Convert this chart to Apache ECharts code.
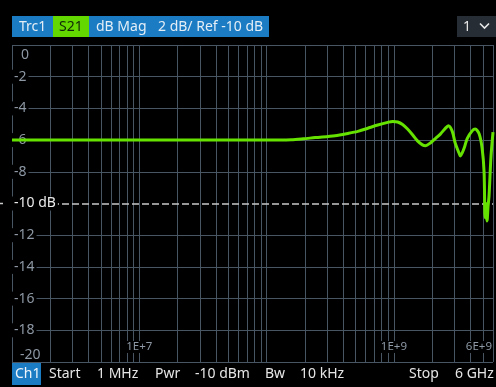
<!DOCTYPE html>
<html>
<head>
<meta charset="utf-8">
<script src="https://cdn.jsdelivr.net/npm/echarts@6/dist/echarts.min.js"></script>
<style>
  html, body { margin: 0; padding: 0; background: #000; }
  #chart { width: 496px; height: 387px; }
</style>
</head>
<body>
<div id="chart"></div>
<script>
// S21 magnitude trace, frequency in Hz, level in dB
const freqHz = [
  1e6, 1e7, 1e8, 1.562e8, 1.938e8, 2.404e8, 3.444e8, 4.351e8, 5.207e8, 6.232e8,
  7.461e8, 8.93e8, 9.77e8, 1.069e9, 1.169e9, 1.279e9, 1.4e9, 1.531e9, 1.675e9, 1.768e9,
  1.934e9, 2.116e9, 2.315e9, 2.533e9, 2.673e9, 2.872e9, 3.032e9, 3.258e9, 3.317e9, 3.564e9,
  3.762e9, 4.115e9, 4.343e9, 4.667e9, 4.925e9, 5.105e9, 5.198e9, 5.292e9, 5.388e9, 5.486e9,
  5.586e9, 5.79e9, 6.0e9
];
const s21dB = [
  -6.0, -6.0, -6.0, -5.98, -5.92, -5.84, -5.72, -5.58, -5.45, -5.25,
  -5.05, -4.88, -4.82, -4.86, -5.02, -5.3, -5.66, -6.05, -6.3, -6.35,
  -6.18, -5.9, -5.62, -5.26, -5.1, -5.45, -6.2, -6.85, -7.0, -6.5,
  -5.9, -5.42, -5.3, -5.6, -6.5, -8.0, -10.9, -10.0, -11.1, -10.2,
  -9.5, -7.0, -5.5
];

// Axis settings
const startHz = 1e6;
const stopHz = 6e9;
const refLevel = -10;
const yMin = -20, yMax = 0, yStep = 2;
const xTickLabels = { '1e7': '1E+7', '1e9': '1E+9', '6e9': '6E+9' };
const decades = [1e6, 1e7, 1e8, 1e9];
const mantissas = [1, 2, 3, 4, 5, 6, 7, 8, 9];

const lineGrey = '#485663';
const labelColor = '#8d98a4';
const traceColor = '#66e200';
const font = '"Noto Sans", "Open Sans", sans-serif';

// vertical log grid lines at 1..9 x each decade
const vLines = [];
decades.forEach(d => mantissas.forEach(m => {
  const f = d * m;
  if (f <= stopHz) vLines.push({ xAxis: f });
}));

// horizontal split lines: hide the one under the reference line
const hColors = [];
for (let v = yMin; v <= yMax; v += yStep) hColors.push(v === refLevel ? 'rgba(0,0,0,0)' : lineGrey);

function xLabel(v) {
  for (const k in xTickLabels) {
    const t = Number(k);
    if (Math.abs(v - t) / t < 1e-6) return xTickLabels[k];
  }
  return '';
}

const chart = echarts.init(document.getElementById('chart'), null, { renderer: 'canvas' });
chart.setOption({
  backgroundColor: '#000',
  animation: false,
  grid: { left: 12, right: 0, top: 45, bottom: 25 },
  xAxis: {
    type: 'log',
    logBase: 10,
    min: startHz,
    max: stopHz,
    z: 1,
    axisLine: { show: false },
    axisTick: { show: false },
    splitLine: { show: false },
    axisLabel: {
      inside: true,
      margin: 9,
      color: labelColor,
      fontFamily: font,
      fontSize: 11.5,
      backgroundColor: '#000',
      padding: [0, 1, 0, 1],
      alignMaxLabel: 'right',
      showMinLabel: true,
      showMaxLabel: true,
      formatter: xLabel
    }
  },
  yAxis: {
    type: 'value',
    min: yMin,
    max: yMax,
    interval: yStep,
    z: 1,
    axisLine: { show: false },
    axisTick: { show: false },
    splitLine: { show: true, lineStyle: { color: hColors, width: 1 } },
    axisLabel: {
      inside: true,
      margin: 0,
      align: 'left',
      fontFamily: font,
      fontSize: 14,
      formatter: v => {
        if (v === yMax) return '{top|' + v + '}';
        if (v === yMin) return '{bot|' + v + '}';
        if (v === refLevel) return '{ref|' + v + ' dB}';
        return '{n|' + v + '}';
      },
      rich: {
        n: { color: labelColor, backgroundColor: '#000', padding: [0, 2, 0, 2], fontFamily: font, fontSize: 14 },
        top: { color: labelColor, padding: [21, 0, 0, 9], fontFamily: font, fontSize: 14 },
        bot: { color: labelColor, padding: [0, 0, 14, 8], fontFamily: font, fontSize: 14 },
        ref: { color: '#ececec', backgroundColor: '#000', padding: [0, 2, 0, 2], fontFamily: font, fontSize: 14 }
      }
    }
  },
  series: [
    {
      // graticule and reference level line
      type: 'line',
      data: [],
      z: 0,
      silent: true,
      markLine: {
        z: 0,
        silent: true,
        symbol: ['none', 'none'],
        label: { show: false },
        emphasis: { disabled: true },
        animation: false,
        data: vLines.map(d => Object.assign({}, d, { lineStyle: { color: lineGrey, width: 1, type: 'solid' } }))
          .concat([{ yAxis: refLevel, lineStyle: { color: '#c9c9c9', width: 1.5, type: [7, 3] } }])
      }
    },
    {
      name: 'S21',
      type: 'line',
      z: 2,
      data: freqHz.map((f, i) => [f, s21dB[i]]),
      showSymbol: false,
      smooth: 0.3,
      lineStyle: { color: traceColor, width: 3 },
      silent: true
    }
  ],
  graphic: [
    // header bar
    { type: 'rect', shape: { x: 12, y: 16, width: 257, height: 21 }, style: { fill: '#1b7cc4' } },
    { type: 'rect', shape: { x: 53, y: 16, width: 36, height: 21 }, style: { fill: '#62d800' } },
    { type: 'text', style: { text: 'Trc1', x: 19, y: 27, fill: '#e4eef6', font: '14px ' + font, verticalAlign: 'middle' } },
    { type: 'text', style: { text: 'S21', x: 59, y: 27, fill: '#10260a', font: '14px ' + font, verticalAlign: 'middle' } },
    { type: 'text', style: { text: 'dB Mag', x: 96, y: 27, fill: '#e4eef6', font: '14px ' + font, verticalAlign: 'middle' } },
    { type: 'text', style: { text: '2 dB/ Ref -10 dB', x: 158, y: 27, fill: '#e4eef6', font: '14px ' + font, verticalAlign: 'middle' } },
    // window selector
    { type: 'rect', shape: { x: 457, y: 16, width: 39, height: 21 }, style: { fill: '#262d34' } },
    { type: 'text', style: { text: '1', x: 463, y: 27, fill: '#e8e8e8', font: '14px ' + font, verticalAlign: 'middle' } },
    { type: 'polyline', shape: { points: [[480, 23.5], [484.5, 28], [489, 23.5]] }, style: { stroke: '#e8e8e8', lineWidth: 1.6, fill: null } },
    // reference marker outside the plot
    { type: 'line', shape: { x1: 0, y1: 203.5, x2: 3, y2: 203.5 }, style: { stroke: '#c9c9c9', lineWidth: 1.5 } },
    // channel bar
    { type: 'rect', shape: { x: 12, y: 363, width: 29, height: 22 }, style: { fill: '#1b7cc4' } },
    { type: 'text', style: { text: 'Ch1', x: 15, y: 374.5, fill: '#eef4fa', font: '14px ' + font, verticalAlign: 'middle' } },
    { type: 'text', style: { text: 'Start', x: 49, y: 374.5, fill: '#e6e6e6', font: '14px ' + font, verticalAlign: 'middle' } },
    { type: 'text', style: { text: '1 MHz', x: 97, y: 374.5, fill: '#e6e6e6', font: '14px ' + font, verticalAlign: 'middle' } },
    { type: 'text', style: { text: 'Pwr', x: 155, y: 374.5, fill: '#e6e6e6', font: '14px ' + font, verticalAlign: 'middle' } },
    { type: 'text', style: { text: '-10 dBm', x: 195, y: 374.5, fill: '#e6e6e6', font: '14px ' + font, verticalAlign: 'middle' } },
    { type: 'text', style: { text: 'Bw', x: 265, y: 374.5, fill: '#e6e6e6', font: '14px ' + font, verticalAlign: 'middle' } },
    { type: 'text', style: { text: '10 kHz', x: 300, y: 374.5, fill: '#e6e6e6', font: '14px ' + font, verticalAlign: 'middle' } },
    { type: 'text', style: { text: 'Stop', x: 409, y: 374.5, fill: '#e6e6e6', font: '14px ' + font, verticalAlign: 'middle' } },
    { type: 'text', style: { text: '6 GHz', x: 455, y: 374.5, fill: '#e6e6e6', font: '14px ' + font, verticalAlign: 'middle' } }
  ]
});
</script>
</body>
</html>
